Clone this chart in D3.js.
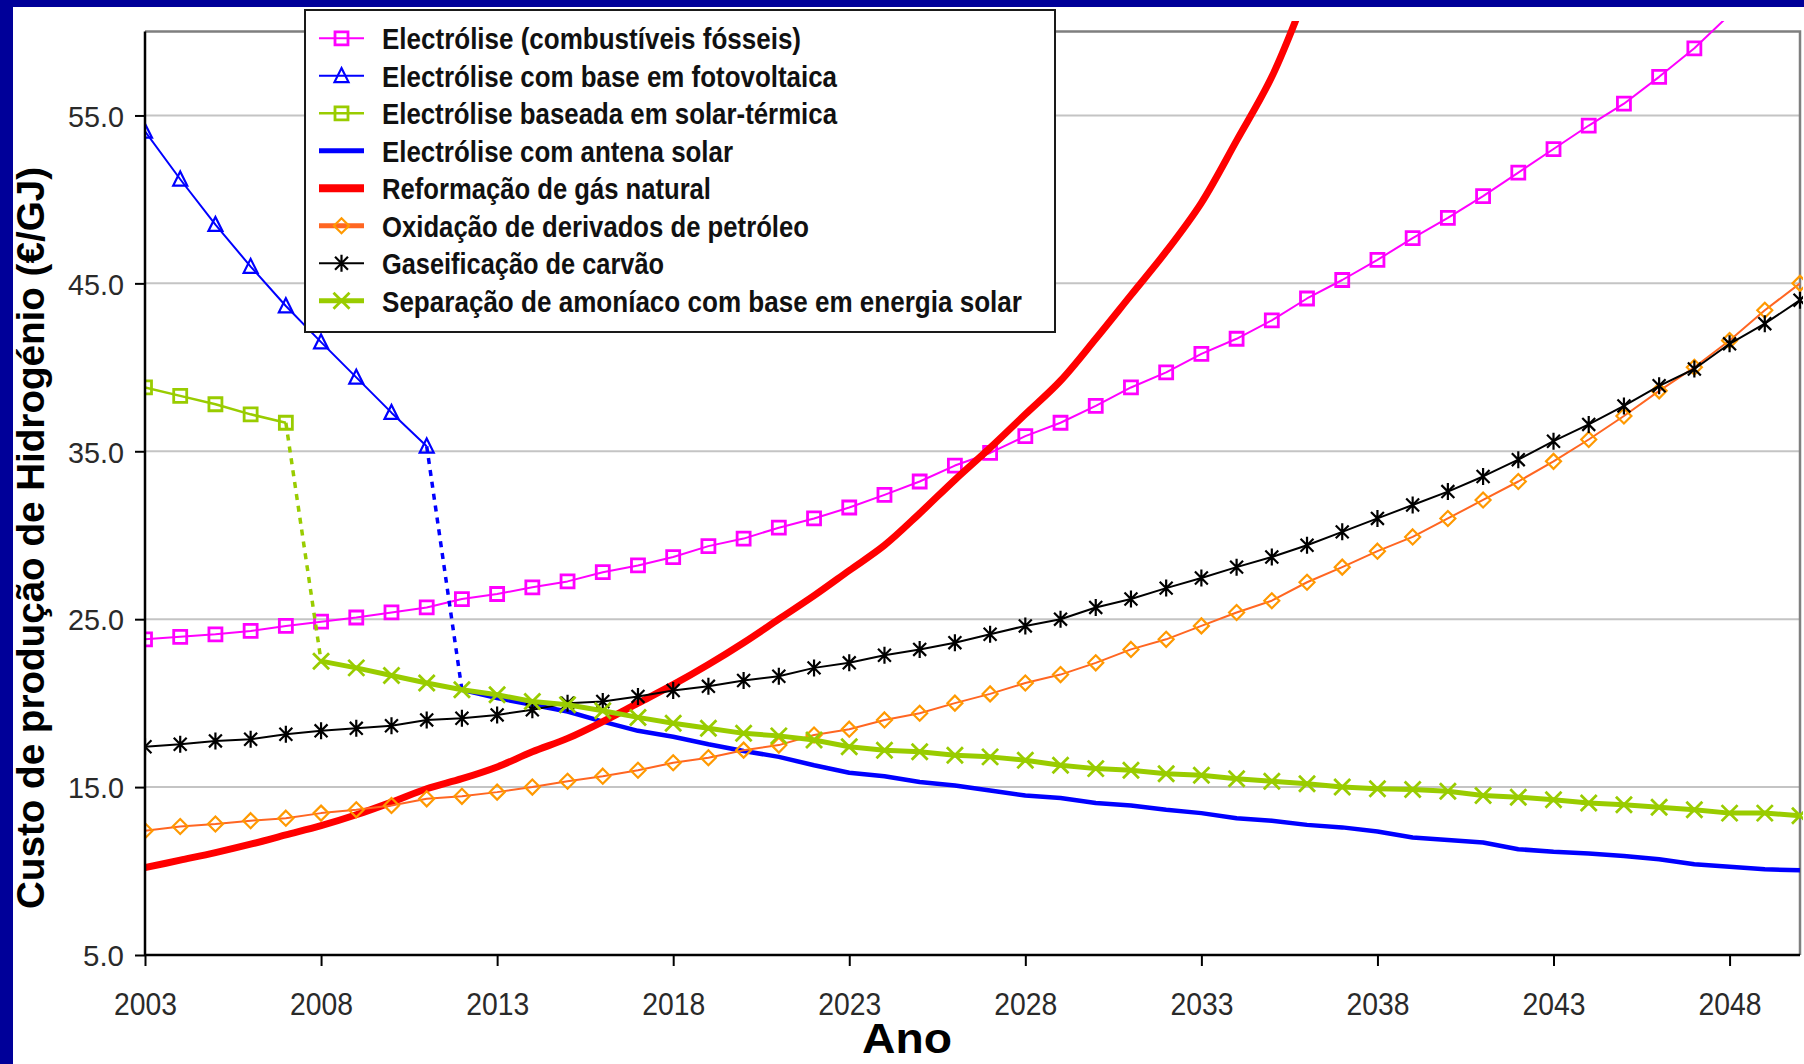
<!DOCTYPE html>
<html>
<head>
<meta charset="utf-8">
<script src="https://cdn.jsdelivr.net/npm/d3@7"></script>
<style>
  html, body { margin: 0; padding: 0; background: #000099; }
  svg { display: block; }
  text { font-family: "Liberation Sans", Arial, sans-serif; }
</style>
</head>
<body>
<svg id="chart" width="1804" height="1064"></svg>
<script>
// ---- Data: hydrogen production cost (€/GJ) by year ----
const fossilStart = 2003;
const fossilElectrolysis = [23.8, 23.95, 24.1, 24.3, 24.6, 24.85, 25.1, 25.4, 25.7, 26.2,
  26.5, 26.9, 27.25, 27.8, 28.2, 28.7, 29.35, 29.8, 30.45, 31.0,
  31.65, 32.4, 33.2, 34.15, 34.9, 35.9, 36.7, 37.7, 38.8, 39.7,
  40.8, 41.7, 42.8, 44.1, 45.2, 46.4, 47.7, 48.9, 50.2, 51.6,
  53.0, 54.4, 55.7, 57.3, 59.0, 61.0];

const pvStart = 2003;
const pvElectrolysis = [54.05, 51.2, 48.5, 46.0, 43.65, 41.5, 39.4, 37.3, 35.3];

const thermalStart = 2003;
const solarThermalElectrolysis = [38.8, 38.3, 37.8, 37.2, 36.7];

const dishStart = 2012;
const solarDishElectrolysis = [20.8, 20.3, 19.9, 19.5, 18.9, 18.35, 18.0, 17.55, 17.15, 16.8,
  16.3, 15.85, 15.65, 15.3, 15.1, 14.8, 14.5, 14.35, 14.05, 13.9,
  13.65, 13.45, 13.15, 13.0, 12.75, 12.6, 12.35, 12.0, 11.85, 11.7,
  11.3, 11.15, 11.05, 10.9, 10.7, 10.4, 10.25, 10.1, 10.05];

const gasStart = 2003;
const naturalGasReforming = [10.2, 10.65, 11.1, 11.6, 12.15, 12.7, 13.35, 14.1, 14.9, 15.5,
  16.2, 17.1, 17.9, 18.9, 20.0, 21.1, 22.3, 23.6, 25.0, 26.4,
  27.9, 29.4, 31.3, 33.3, 35.2, 37.2, 39.2, 41.7, 44.3, 46.9,
  49.8, 53.5, 57.3, 62.4];

const oilStart = 2003;
const oilOxidation = [12.4, 12.65, 12.8, 13.0, 13.15, 13.45, 13.65, 13.9, 14.3, 14.45,
  14.7, 15.0, 15.35, 15.65, 16.0, 16.45, 16.75, 17.2, 17.5, 18.1,
  18.45, 19.0, 19.4, 20.0, 20.55, 21.2, 21.7, 22.4, 23.2, 23.8,
  24.6, 25.4, 26.1, 27.2, 28.1, 29.05, 29.9, 31.0, 32.1, 33.2,
  34.4, 35.7, 37.1, 38.6, 40.0, 41.6, 43.4, 45.0];

const coalStart = 2003;
const coalGasification = [17.4, 17.55, 17.75, 17.85, 18.15, 18.35, 18.5, 18.65, 19.0, 19.1,
  19.3, 19.6, 20.0, 20.1, 20.4, 20.75, 21.0, 21.35, 21.6, 22.1,
  22.4, 22.85, 23.2, 23.6, 24.1, 24.6, 25.0, 25.7, 26.2, 26.85,
  27.45, 28.1, 28.7, 29.4, 30.2, 31.0, 31.8, 32.6, 33.5, 34.5,
  35.6, 36.6, 37.7, 38.9, 39.9, 41.4, 42.6, 44.0];

const ammoniaStart = 2008;
const solarAmmonia = [22.5, 22.1, 21.65, 21.2, 20.8, 20.5, 20.1, 19.9, 19.55, 19.15,
  18.8, 18.5, 18.2, 18.05, 17.8, 17.4, 17.2, 17.1, 16.9, 16.8,
  16.6, 16.3, 16.1, 16.0, 15.8, 15.7, 15.5, 15.35, 15.2, 15.0,
  14.9, 14.85, 14.75, 14.5, 14.4, 14.25, 14.05, 13.95, 13.8, 13.65,
  13.45, 13.45, 13.3];

const yTicks = [5, 15, 25, 35, 45, 55];
const xTicks = [2003, 2008, 2013, 2018, 2023, 2028, 2033, 2038, 2043, 2048];

const legendLabels = [
  "Electrólise (combustíveis fósseis)",
  "Electrólise com base em fotovoltaica",
  "Electrólise baseada em solar-térmica",
  "Electrólise com antena solar",
  "Reformação de gás natural",
  "Oxidação de derivados de petróleo",
  "Gaseificação de carvão",
  "Separação de amoníaco com base em energia solar"
];

// ---- Helpers ----
const toPoints = (start, values) => values.map((v, i) => ({ year: start + i, value: v }));

const svg = d3.select("#chart");
const W = 1804, H = 1064;
const plot = { left: 145, right: 1800, top: 31.5, bottom: 955 };

const x = d3.scaleLinear().domain([2003, 2050]).range([plot.left, plot.right]);
const y = d3.scaleLinear().domain([5, 60]).range([plot.bottom, plot.top]);

// page background
svg.append("rect").attr("width", W).attr("height", H).attr("fill", "#000099");
svg.append("rect").attr("x", 13).attr("y", 7).attr("width", W - 13).attr("height", H - 7).attr("fill", "#ffffff");

// gridlines
svg.append("g").selectAll("line").data(yTicks.filter(t => t > 5)).join("line")
  .attr("x1", plot.left).attr("x2", plot.right)
  .attr("y1", d => y(d)).attr("y2", d => y(d))
  .attr("stroke", "#c4c4c4").attr("stroke-width", 2);

// plot frame (top and right)
svg.append("path")
  .attr("d", `M${plot.left},${y(60)}H${plot.right}V${plot.bottom}`)
  .attr("fill", "none").attr("stroke", "#7f7f7f").attr("stroke-width", 2.5);

// marker shapes
const markerPath = {
  square: s => `M${-s/2},${-s/2}h${s}v${s}h${-s}Z`,
  triangle: s => `M0,${-s*0.55}L${s/2},${s*0.45}L${-s/2},${s*0.45}Z`,
  diamond: s => `M0,${-s/2}L${s/2},0L0,${s/2}L${-s/2},0Z`,
  star: s => { const h = s/2, a = s*0.38; return `M0,${-h}V${h}M${-a},${-a}L${a},${a}M${-a},${a}L${a},${-a}`; },
  cross: s => { const a = s/2; return `M${-a},${-a}L${a},${a}M${-a},${a}L${a},${-a}`; }
};

const series = [
  { data: toPoints(fossilStart, fossilElectrolysis), color: "#ff00ff", width: 2, marker: "square", mSize: 13, mColor: "#ff00ff", mWidth: 2.8, legendWidth: 2 },
  { data: toPoints(pvStart, pvElectrolysis), color: "#0000ff", width: 2, marker: "triangle", mSize: 14, mColor: "#0000ff", mWidth: 2.2, legendWidth: 2 },
  { data: toPoints(thermalStart, solarThermalElectrolysis), color: "#99cc00", width: 2.5, marker: "square", mSize: 13, mColor: "#99cc00", mWidth: 2.8, legendWidth: 2.5 },
  { data: toPoints(dishStart, solarDishElectrolysis), color: "#0000ff", width: 4.5, marker: null, legendWidth: 5 },
  { data: toPoints(gasStart, naturalGasReforming), color: "#ff0000", width: 7, marker: null, curve: d3.curveCatmullRom, legendWidth: 8 },
  { data: toPoints(oilStart, oilOxidation), color: "#ff6622", width: 2, marker: "diamond", mSize: 15, mColor: "#ff9900", mWidth: 2.2, legendWidth: 5 },
  { data: toPoints(coalStart, coalGasification), color: "#000000", width: 2, marker: "star", mSize: 17, mColor: "#000000", mWidth: 2.2, legendWidth: 2 },
  { data: toPoints(ammoniaStart, solarAmmonia), color: "#99cc00", width: 5, marker: "cross", mSize: 16, mColor: "#99cc00", mWidth: 2.8, legendWidth: 5 }
];

// clip: lines may run a little above the plot frame
svg.append("clipPath").attr("id", "plotClip")
  .append("rect").attr("x", plot.left).attr("y", 21)
  .attr("width", plot.right - plot.left + 3).attr("height", plot.bottom - 21);

const area = svg.append("g").attr("clip-path", "url(#plotClip)");

// dotted transitions between technologies
const transitions = [
  { from: series[2].data[series[2].data.length - 1], to: series[7].data[0], color: "#99cc00" },
  { from: series[1].data[series[1].data.length - 1], to: series[3].data[0], color: "#0000ff" }
];

series.forEach((s, i) => {
  const line = d3.line().x(d => x(d.year)).y(d => y(d.value));
  if (s.curve) line.curve(s.curve);
  area.append("path").datum(s.data)
    .attr("d", line).attr("fill", "none")
    .attr("stroke", s.color).attr("stroke-width", s.width)
    .attr("stroke-linejoin", "round");

  if (i === 2) {
    transitions.forEach(t => {
      area.append("path").datum([t.from, t.to])
        .attr("d", d3.line().x(d => x(d.year)).y(d => y(d.value)))
        .attr("fill", "none").attr("stroke", t.color)
        .attr("stroke-width", 3.5).attr("stroke-dasharray", "6,6");
    });
  }

  if (s.marker) {
    area.append("g").selectAll("path")
      .data(s.data.filter(d => d.value <= 60))
      .join("path")
      .attr("transform", d => `translate(${x(d.year)},${y(d.value)})`)
      .attr("d", markerPath[s.marker](s.mSize))
      .attr("fill", "none").attr("stroke", s.mColor).attr("stroke-width", s.mWidth);
  }
});

// axes
const yAxis = d3.axisLeft(y).tickValues(yTicks).tickSize(10).tickSizeOuter(0).tickFormat(d3.format(".1f"));
const gy = svg.append("g").attr("transform", `translate(${plot.left},0)`).call(yAxis);
gy.select(".domain").attr("stroke", "#000").attr("stroke-width", 2.5)
  .attr("d", `M0,${y(60)}V${plot.bottom}`);
gy.selectAll(".tick line").attr("stroke", "#000").attr("stroke-width", 2);
gy.selectAll(".tick text")
  .attr("x", -21).attr("dy", "0.36em")
  .attr("font-size", 30).attr("fill", "#2a2a2a")
  .attr("textLength", d => d < 10 ? 41 : 56).attr("lengthAdjust", "spacingAndGlyphs");

const xAxis = d3.axisBottom(x).tickValues(xTicks).tickSize(11).tickSizeOuter(0).tickFormat(d3.format("d"));
const gx = svg.append("g").attr("transform", `translate(0,${plot.bottom})`).call(xAxis);
gx.select(".domain").attr("stroke", "#000").attr("stroke-width", 2.5)
  .attr("d", `M${plot.left},0H${plot.right}`);
gx.selectAll(".tick line").attr("stroke", "#000").attr("stroke-width", 2);
gx.selectAll(".tick text")
  .attr("y", 60).attr("dy", 0)
  .attr("font-size", 32).attr("fill", "#2a2a2a")
  .attr("textLength", 63).attr("lengthAdjust", "spacingAndGlyphs");

// axis titles
svg.append("text")
  .attr("transform", "translate(44,538) rotate(-90)")
  .attr("text-anchor", "middle")
  .attr("font-size", 38).attr("font-weight", "bold").attr("fill", "#000")
  .attr("textLength", 742).attr("lengthAdjust", "spacingAndGlyphs")
  .text("Custo de produção de Hidrogénio (€/GJ)");

svg.append("text")
  .attr("x", 907).attr("y", 1053)
  .attr("text-anchor", "middle")
  .attr("font-size", 43).attr("font-weight", "bold").attr("fill", "#000")
  .attr("textLength", 90).attr("lengthAdjust", "spacingAndGlyphs")
  .text("Ano");

// legend
const legend = svg.append("g");
legend.append("rect")
  .attr("x", 305).attr("y", 10).attr("width", 750).attr("height", 322)
  .attr("fill", "#fff").attr("stroke", "#1a1a1a").attr("stroke-width", 2);

const legendWidths = [419, 455, 455, 351, 329, 427, 282, 640];
legendLabels.forEach((label, i) => {
  const s = series[i];
  const base = 49.3 + i * 37.5;
  const cy = base - 11;
  const row = legend.append("g");
  row.append("line")
    .attr("x1", 319).attr("x2", 364).attr("y1", cy).attr("y2", cy)
    .attr("stroke", s.color).attr("stroke-width", s.legendWidth);
  if (s.marker) {
    row.append("path")
      .attr("transform", `translate(341.5,${cy})`)
      .attr("d", markerPath[s.marker](s.mSize))
      .attr("fill", "none").attr("stroke", s.mColor).attr("stroke-width", s.mWidth);
  }
  row.append("text")
    .attr("x", 382).attr("y", base)
    .attr("font-size", 29).attr("font-weight", "bold").attr("fill", "#111")
    .attr("textLength", legendWidths[i]).attr("lengthAdjust", "spacingAndGlyphs")
    .text(label);
});
</script>
</body>
</html>
